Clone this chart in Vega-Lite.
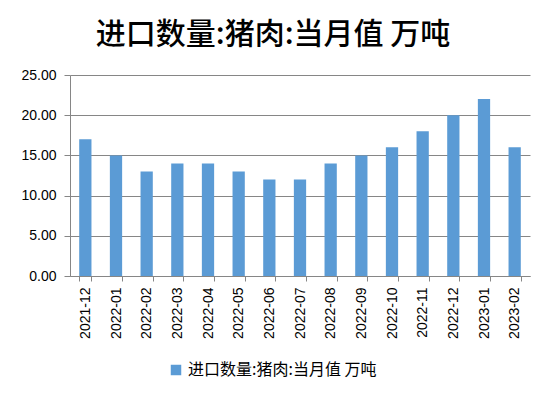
{
  "$schema": "https://vega.github.io/schema/vega-lite/v6.json",
  "width": 460,
  "height": 201,
  "autosize": {"type": "none"},
  "padding": {"left": 70, "top": 75, "right": 20, "bottom": 121},
  "background": "white",
  "title": {
    "text": "进口数量:猪肉:当月值 万吨",
    "font": "Noto Sans CJK SC",
    "fontSize": 30,
    "fontWeight": 500,
    "color": "#000000",
    "anchor": "middle",
    "offset": 18,
    "dx": -27
  },
  "data": {
    "values": [
      {"month": "2021-12", "value": 17, "series": "进口数量:猪肉:当月值 万吨"},
      {"month": "2022-01", "value": 15, "series": "进口数量:猪肉:当月值 万吨"},
      {"month": "2022-02", "value": 13, "series": "进口数量:猪肉:当月值 万吨"},
      {"month": "2022-03", "value": 14, "series": "进口数量:猪肉:当月值 万吨"},
      {"month": "2022-04", "value": 14, "series": "进口数量:猪肉:当月值 万吨"},
      {"month": "2022-05", "value": 13, "series": "进口数量:猪肉:当月值 万吨"},
      {"month": "2022-06", "value": 12, "series": "进口数量:猪肉:当月值 万吨"},
      {"month": "2022-07", "value": 12, "series": "进口数量:猪肉:当月值 万吨"},
      {"month": "2022-08", "value": 14, "series": "进口数量:猪肉:当月值 万吨"},
      {"month": "2022-09", "value": 15, "series": "进口数量:猪肉:当月值 万吨"},
      {"month": "2022-10", "value": 16, "series": "进口数量:猪肉:当月值 万吨"},
      {"month": "2022-11", "value": 18, "series": "进口数量:猪肉:当月值 万吨"},
      {"month": "2022-12", "value": 20, "series": "进口数量:猪肉:当月值 万吨"},
      {"month": "2023-01", "value": 22, "series": "进口数量:猪肉:当月值 万吨"},
      {"month": "2023-02", "value": 16, "series": "进口数量:猪肉:当月值 万吨"}
    ]
  },
  "mark": {"type": "bar"},
  "encoding": {
    "x": {
      "field": "month",
      "type": "ordinal",
      "sort": null,
      "title": null,
      "scale": {"paddingInner": 0.6, "paddingOuter": 0.3},
      "axis": {
        "labelAngle": -90,
        "labelAlign": "right",
        "labelBaseline": "middle",
        "labelFont": "Liberation Sans",
        "labelFontSize": 14,
        "labelColor": "#000000",
        "labelPadding": 6,
        "tickBand": "extent",
        "tickColor": "#868686",
        "tickSize": 5,
        "domainColor": "#868686",
        "grid": false
      }
    },
    "y": {
      "field": "value",
      "type": "quantitative",
      "title": null,
      "scale": {"domain": [0, 25], "nice": false},
      "axis": {
        "values": [0, 5, 10, 15, 20, 25],
        "format": ".2f",
        "labelFont": "Liberation Sans",
        "labelFontSize": 14,
        "labelColor": "#000000",
        "labelPadding": 8,
        "tickColor": "#868686",
        "tickSize": 6,
        "domainColor": "#868686",
        "grid": true,
        "gridColor": "#868686",
        "gridWidth": 1
      }
    },
    "color": {
      "field": "series",
      "type": "nominal",
      "scale": {"range": ["#5B9BD5"]},
      "legend": {
        "title": null,
        "orient": "none",
        "legendX": 98,
        "legendY": 287,
        "symbolType": "square",
        "symbolSize": 110,
        "symbolOpacity": 1,
        "labelFont": "Noto Sans CJK SC",
        "labelFontSize": 16,
        "labelColor": "#000000",
        "labelLimit": 400
      }
    }
  },
  "config": {"view": {"stroke": null}}
}
